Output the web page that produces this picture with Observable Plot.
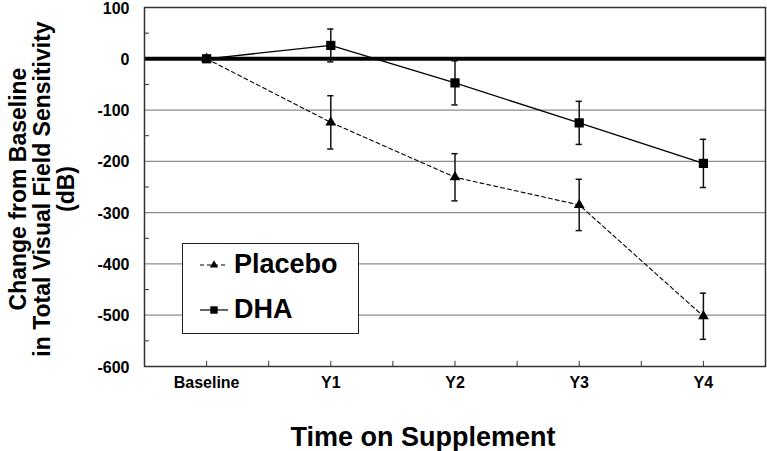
<!DOCTYPE html>
<html>
<head>
<meta charset="utf-8">
<script src="https://cdn.jsdelivr.net/npm/d3@7"></script>
<script src="https://cdn.jsdelivr.net/npm/@observablehq/plot@0.6"></script>
<style>
  html, body { margin: 0; padding: 0; background: #fff; }
  #wrap { position: relative; width: 767px; height: 451px; font-family: "Liberation Sans", Arial, sans-serif; font-weight: bold; color: #000; }
  #ytitle { position: absolute; left: 42px; top: 189px; transform: translate(-50%, -50%) rotate(-90deg); white-space: nowrap; text-align: center; font-size: 23px; line-height: 24px; }
  #xtitle { position: absolute; left: 423px; top: 437px; transform: translate(-50%, -50%); white-space: nowrap; font-size: 27px; }
  #legend { position: absolute; left: 182px; top: 243px; width: 175px; height: 89px; border: 1.5px solid #222; background: #fff; }
  .lrow { position: absolute; left: 16px; display: flex; align-items: center; font-size: 27px; }
  .lrow svg { margin-right: 5px; }
</style>
</head>
<body>
<div id="wrap">
  <div id="chart"></div>
  <div id="ytitle">Change from Baseline<br>in Total Visual Field Sensitivity<br>(dB)</div>
  <div id="xtitle">Time on Supplement</div>
  <div id="legend"></div>
</div>
<script>
const categories = ["Baseline", "Y1", "Y2", "Y3", "Y4"];
const placeboValues = [0, -124, -231, -285, -502];
const placeboErrors = [0, 52, 46, 50, 45];
const dhaValues = [0, 26, -47, -125, -204];
const dhaErrors = [0, 32, 43, 42, 47];
const yTicks = [100, 0, -100, -200, -300, -400, -500, -600];
const seriesNames = ["Placebo", "DHA"];

const rows = (vals, errs, name) => vals.map((v, i) => ({i, v, e: errs[i], name}));
const placebo = rows(placeboValues, placeboErrors, "Placebo");
const dha = rows(dhaValues, dhaErrors, "DHA");
const withErr = [...placebo, ...dha].filter(d => d.e > 0);

const xMinor = d3.range(0, categories.length * 2 - 1).map(k => k / 2);
const yMinor = d3.range(-550, 100, 50).filter(v => v % 100 !== 0);

const chart = Plot.plot({
  width: 767,
  height: 451,
  marginLeft: 144,
  marginRight: 2,
  marginTop: 7,
  marginBottom: 85,
  style: {fontFamily: "'Liberation Sans', Arial, sans-serif", fontWeight: "bold", color: "#000", background: "#fff", overflow: "visible"},
  x: {type: "linear", domain: [-0.5, categories.length - 0.5]},
  y: {domain: [-600, 100]},
  marks: [
    Plot.ruleY(yTicks.filter(v => v !== 0 && v !== 100 && v !== -600), {stroke: "#8c8c8c", strokeWidth: 1.3}),
    Plot.ruleY(yMinor, {x1: -0.5, x2: -0.5 + 0.04, stroke: "#333", strokeWidth: 1}),
    Plot.ruleX(xMinor, {y1: -600, y2: -590, stroke: "#333", strokeWidth: 1}),
    Plot.ruleY([0], {stroke: "#000", strokeWidth: 4}),
    Plot.frame({stroke: "#333", strokeWidth: 1.5}),
    Plot.axisY({ticks: yTicks, tickFormat: d => String(d), tickSize: 0, tickPadding: 15, fontSize: 16, fontWeight: "bold", label: null, dy: 1}),
    Plot.axisX({ticks: d3.range(categories.length), tickFormat: i => categories[i], tickSize: 0, tickPadding: 10, fontSize: 16, fontWeight: "bold", label: null}),
    Plot.ruleX(withErr, {x: "i", y1: d => d.v - d.e, y2: d => d.v + d.e, stroke: "#111", strokeWidth: 1.5}),
    Plot.ruleY(withErr, {y: d => d.v - d.e, x1: d => d.i - 0.025, x2: d => d.i + 0.025, stroke: "#111", strokeWidth: 1.5}),
    Plot.ruleY(withErr, {y: d => d.v + d.e, x1: d => d.i - 0.025, x2: d => d.i + 0.025, stroke: "#111", strokeWidth: 1.5}),
    Plot.line(placebo, {x: "i", y: "v", stroke: "#000", strokeWidth: 1.1, strokeDasharray: "4,3"}),
    Plot.line(dha, {x: "i", y: "v", stroke: "#000", strokeWidth: 1.3}),
    Plot.dot(placebo, {x: "i", y: "v", symbol: "triangle", r: 4, fill: "#000", stroke: "none"}),
    Plot.dot(dha, {x: "i", y: "v", symbol: "square", r: 5.2, fill: "#000", stroke: "none"})
  ]
});
document.getElementById("chart").appendChild(chart);

// Legend
const legend = document.getElementById("legend");
const styles = [
  {dash: "4,3", sym: "triangle", top: 5},
  {dash: null, sym: "square", top: 50}
];
seriesNames.forEach((name, k) => {
  const st = styles[k];
  const row = document.createElement("div");
  row.className = "lrow";
  row.style.top = st.top + "px";
  const svg = d3.create("svg").attr("width", 30).attr("height", 30);
  svg.append("line").attr("x1", 1).attr("x2", 29).attr("y1", 15).attr("y2", 15)
    .attr("stroke", "#000").attr("stroke-width", 1.2).attr("stroke-dasharray", st.dash);
  const sym = st.sym === "triangle" ? d3.symbolTriangle : d3.symbolSquare;
  svg.append("path").attr("transform", "translate(15,15)")
    .attr("d", d3.symbol(sym, st.sym === "triangle" ? 30 : 55)()).attr("fill", "#000");
  row.appendChild(svg.node());
  const span = document.createElement("span");
  span.textContent = name;
  row.appendChild(span);
  legend.appendChild(row);
});
</script>
</body>
</html>
